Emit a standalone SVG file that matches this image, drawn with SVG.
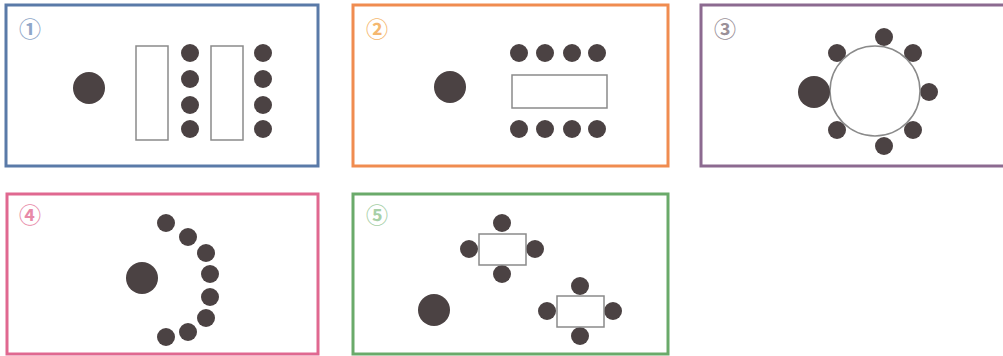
<svg xmlns="http://www.w3.org/2000/svg" width="1003" height="356" viewBox="0 0 1003 356">
<style>
.frame{fill:none;stroke-width:3}
.num{font-family:"Noto Sans CJK JP","DejaVu Sans",sans-serif;font-size:22px;font-weight:700;text-anchor:middle;dominant-baseline:central}
.d{fill:#4b4243}
.t{fill:#fff;stroke:#8a8a8a;stroke-width:1.5}
</style>
<rect width="1003" height="356" fill="#fff"/>
<g id="panel1">
<rect class="frame" x="6" y="5" width="312" height="161" stroke="#5a7aa8"/>
<text class="num" x="30" y="27" fill="#8fa6c8">①</text>
<circle class="d" cx="89" cy="88" r="16"/>
<rect class="t" x="136" y="46" width="32" height="94"/>
<rect class="t" x="211" y="46" width="32" height="94"/>
<circle class="d" cx="190" cy="53" r="9"/><circle class="d" cx="190" cy="79" r="9"/><circle class="d" cx="190" cy="105" r="9"/><circle class="d" cx="190" cy="129" r="9"/>
<circle class="d" cx="263" cy="53" r="9"/><circle class="d" cx="263" cy="79" r="9"/><circle class="d" cx="263" cy="105" r="9"/><circle class="d" cx="263" cy="129" r="9"/>
</g>
<g id="panel2">
<rect class="frame" x="353" y="5" width="315" height="161" stroke="#f08c50"/>
<text class="num" x="377" y="27" fill="#f5b870">②</text>
<circle class="d" cx="450" cy="87" r="16"/>
<rect class="t" x="512" y="75" width="95" height="33"/>
<circle class="d" cx="519" cy="53" r="9"/><circle class="d" cx="545" cy="53" r="9"/><circle class="d" cx="572" cy="53" r="9"/><circle class="d" cx="597" cy="53" r="9"/>
<circle class="d" cx="519" cy="129" r="9"/><circle class="d" cx="545" cy="129" r="9"/><circle class="d" cx="572" cy="129" r="9"/><circle class="d" cx="597" cy="129" r="9"/>
</g>
<g id="panel3">
<rect class="frame" x="701" y="5" width="306" height="161" stroke="#8c6a90"/>
<text class="num" x="725" y="27" fill="#9a9098">③</text>
<circle class="d" cx="884" cy="37" r="9"/>
<circle class="d" cx="837" cy="53" r="9"/>
<circle class="d" cx="913" cy="53" r="9"/>
<circle class="d" cx="929" cy="92" r="9"/>
<circle class="d" cx="837" cy="130" r="9"/>
<circle class="d" cx="913" cy="130" r="9"/>
<circle class="d" cx="884" cy="146" r="9"/>
<circle class="t" cx="875" cy="91" r="45"/>
<circle class="d" cx="814" cy="92" r="16"/>
</g>
<g id="panel4">
<rect class="frame" x="7" y="194" width="311" height="160" stroke="#e06890"/>
<text class="num" x="30" y="213" fill="#e88aa8">④</text>
<circle class="d" cx="142" cy="278" r="16"/>
<circle class="d" cx="166" cy="223" r="9"/>
<circle class="d" cx="188" cy="237" r="9"/>
<circle class="d" cx="206" cy="253" r="9"/>
<circle class="d" cx="210" cy="274" r="9"/>
<circle class="d" cx="210" cy="297" r="9"/>
<circle class="d" cx="206" cy="318" r="9"/>
<circle class="d" cx="188" cy="332" r="9"/>
<circle class="d" cx="166" cy="337" r="9"/>
</g>
<g id="panel5">
<rect class="frame" x="353" y="194" width="315" height="160" stroke="#6aaa6a"/>
<text class="num" x="377" y="213" fill="#a8d0a8">⑤</text>
<circle class="d" cx="434" cy="310" r="16"/>
<circle class="d" cx="502" cy="223" r="9"/>
<circle class="d" cx="469" cy="249" r="9"/>
<circle class="d" cx="535" cy="249" r="9"/>
<circle class="d" cx="502" cy="274" r="9"/>
<rect class="t" x="479" y="234" width="47" height="31"/>
<circle class="d" cx="580" cy="286" r="9"/>
<circle class="d" cx="547" cy="311" r="9"/>
<circle class="d" cx="613" cy="311" r="9"/>
<circle class="d" cx="580" cy="336" r="9"/>
<rect class="t" x="557" y="296" width="47" height="31"/>
</g>
<g id="connectors"/>
</svg>
